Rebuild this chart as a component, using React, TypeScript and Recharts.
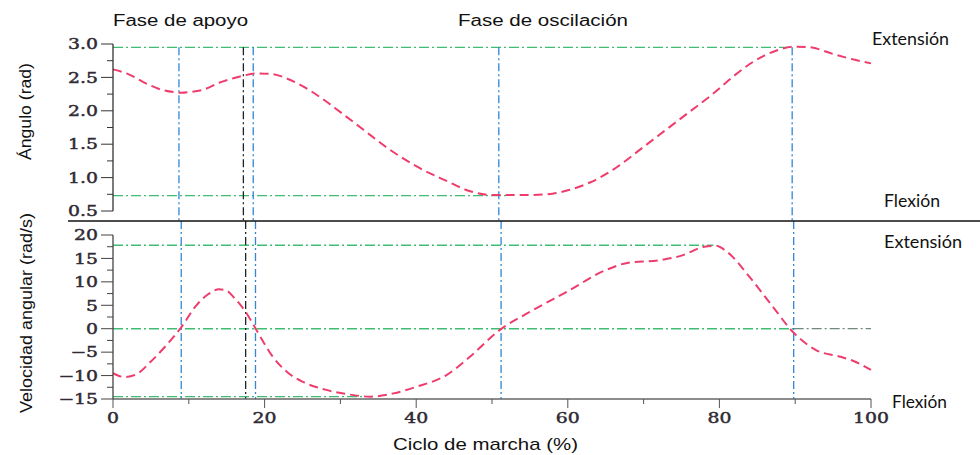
import { LineChart, Line, XAxis, YAxis, ReferenceLine } from "recharts";

// gait cycle (%) and knee angle (rad)
const anglePct = [0, 2, 4, 6, 8, 9, 10, 12, 14, 16, 17, 19, 21, 23, 25, 28, 30, 33, 36, 40, 44, 47, 50, 52, 55, 58, 60, 63, 66, 70, 73, 76, 79, 82, 84, 86, 88, 90, 92, 95, 98, 100];
const angleRad = [2.62, 2.55, 2.43, 2.33, 2.28, 2.27, 2.28, 2.32, 2.42, 2.49, 2.52, 2.56, 2.55, 2.48, 2.37, 2.15, 1.98, 1.72, 1.46, 1.17, 0.95, 0.8, 0.74, 0.74, 0.74, 0.76, 0.81, 0.93, 1.12, 1.46, 1.72, 1.98, 2.24, 2.53, 2.7, 2.83, 2.92, 2.96, 2.95, 2.85, 2.76, 2.71];

// gait cycle (%) and angular velocity (rad/s)
const velPct = [0, 1.5, 3, 5, 7, 9, 11, 12.5, 14, 15, 16, 17.5, 19, 21, 23, 25, 28, 31, 34, 37, 40, 44, 47, 51, 55, 60, 65, 68, 72, 75, 78, 79.5, 81, 84, 87, 89.7, 92.8, 96, 98, 100];
const velRad = [-9.5, -10.3, -9.8, -7.0, -3.6, 0.3, 5.0, 7.3, 8.4, 8.1, 6.6, 3.6, -0.5, -5.8, -9.3, -11.3, -13.0, -14.0, -14.5, -13.8, -12.4, -9.9, -6.1, -0.3, 3.6, 8.0, 12.5, 14.1, 14.6, 15.6, 17.5, 17.7, 16.4, 11.0, 4.8, -0.7, -4.6, -6.0, -7.1, -8.8];

const angleTicks = [0.5, 0.75, 1, 1.25, 1.5, 1.75, 2, 2.25, 2.5, 2.75, 3];
const velTicks = [-15, -12.5, -10, -7.5, -5, -2.5, 0, 2.5, 5, 7.5, 10, 12.5, 15, 17.5, 20];
const pctTicks = [0, 10, 20, 30, 40, 50, 60, 70, 80, 90, 100];

// extension / flexion limits
const angleExt = 2.95;
const angleFlex = 0.73;
const velExt = 17.8;
const velFlex = -14.5;

// phase events (%)
const eventsTop = [8.7, 18.5, 50.9, 89.6];
const eventsBottom = [9.0, 18.8, 51.2, 89.8];
const toeOffTop = 17.2;
const toeOffBottom = 17.5;

const angleData = anglePct.map((pct, i) => ({ pct, angle: angleRad[i] }));
const velData = velPct.map((pct, i) => ({ pct, vel: velRad[i] }));

const RED = "#ee3d6d";
const GREEN = "#3fbd72";
const BLUE = "#2f86d4";
const GREEN_DASH = "10 3 2 3";
const BLUE_DASH = "8 3 2 3";
const tickFont = "'DejaVu Serif', serif";
const tickColor = "#2f2a33";

const fmtVel = (v: number) => (v < 0 ? "\u2212" + Math.abs(v) : String(v));

const tickText = {
  fontFamily: tickFont,
  fontSize: 14.5,
  fill: tickColor,
  stroke: tickColor,
  strokeWidth: 0.45,
};

const AngleTick = (props: any) => {
  const { x, y, payload } = props;
  const v = payload.value as number;
  const major = Math.abs(v * 2 - Math.round(v * 2)) < 1e-6;
  return (
    <g>
      <line x1={x - (major ? 12 : 6)} x2={x} y1={y} y2={y} stroke="#333" />
      {major && (
        <text transform={`translate(${x - 15},${y}) scale(1.3,1)`} textAnchor="end" dy="0.36em" {...tickText}>
          {v.toFixed(1)}
        </text>
      )}
    </g>
  );
};

const VelTick = (props: any) => {
  const { x, y, payload } = props;
  const v = payload.value as number;
  const major = v % 5 === 0;
  return (
    <g>
      <line x1={x - (major ? 12 : 6)} x2={x} y1={y} y2={y} stroke="#444" />
      {major && (
        <text transform={`translate(${x - 15},${y}) scale(1.3,1)`} textAnchor="end" dy="0.36em" {...tickText}>
          {fmtVel(v)}
        </text>
      )}
    </g>
  );
};

const PctTick = (props: any) => {
  const { x, y, payload } = props;
  const v = payload.value as number;
  const major = v % 20 === 0;
  return (
    <g>
      <line x1={x} x2={x} y1={y} y2={y + (major ? 9 : 5)} stroke="#555" />
      {major && (
        <text transform={`translate(${x},${y + 24}) scale(1.3,1)`} textAnchor="middle" {...tickText}>
          {v}
        </text>
      )}
    </g>
  );
};

const sans = "'Liberation Sans', Arial, sans-serif";
const calibri = "Lato, sans-serif";

export default function App() {
  return (
    <div style={{ position: "absolute", left: 0, top: 0, width: 980, height: 455, background: "#fff", overflow: "hidden" }}>
      <div style={{ position: "absolute", left: 0, top: 0 }}>
        <LineChart width={980} height={230} data={angleData} margin={{ top: 44, right: 109, bottom: 19, left: 0 }}>
          <XAxis type="number" dataKey="pct" domain={[0, 100]} hide />
          <YAxis
            type="number"
            domain={[0.5, 3]}
            ticks={angleTicks}
            interval={0}
            width={113}
            tickSize={0}
            tickMargin={0}
            axisLine={{ stroke: "#333", strokeWidth: 1.3 }}
            tickLine={false}
            tick={AngleTick}
          />
          <ReferenceLine segment={[{ x: 0, y: angleExt }, { x: 89.6, y: angleExt }]} stroke={GREEN} strokeDasharray={GREEN_DASH} strokeWidth={1.4} ifOverflow="visible" />
          <ReferenceLine segment={[{ x: 0, y: angleFlex }, { x: 52, y: angleFlex }]} stroke={GREEN} strokeDasharray={GREEN_DASH} strokeWidth={1.4} ifOverflow="visible" />
          {eventsTop.map((e) => (
            <ReferenceLine key={e} segment={[{ x: e, y: angleExt }, { x: e, y: 0.35 }]} stroke={BLUE} strokeDasharray={BLUE_DASH} strokeWidth={1.3} ifOverflow="visible" />
          ))}
          <ReferenceLine segment={[{ x: toeOffTop, y: angleExt }, { x: toeOffTop, y: 0.35 }]} stroke="#222" strokeDasharray={BLUE_DASH} strokeWidth={1.3} ifOverflow="visible" />
          <Line type="monotone" dataKey="angle" stroke={RED} strokeWidth={2} strokeDasharray="9 5" dot={false} isAnimationActive={false} />
        </LineChart>
      </div>
      <div style={{ position: "absolute", left: 0, top: 214 }}>
        <LineChart width={980} height={241} data={velData} margin={{ top: 21, right: 109, bottom: 0, left: 0 }}>
          <XAxis
            type="number"
            dataKey="pct"
            domain={[0, 100]}
            ticks={pctTicks}
            interval={0}
            height={56}
            tickSize={0}
            tickMargin={0}
            axisLine={{ stroke: "#666", strokeWidth: 1.3 }}
            tickLine={false}
            tick={PctTick}
          />
          <YAxis
            type="number"
            domain={[-15, 20]}
            ticks={velTicks}
            interval={0}
            width={113}
            tickSize={0}
            tickMargin={0}
            axisLine={{ stroke: "#444", strokeWidth: 1.3 }}
            tickLine={false}
            tick={VelTick}
          />
          <ReferenceLine segment={[{ x: 0, y: velExt }, { x: 79.2, y: velExt }]} stroke={GREEN} strokeDasharray={GREEN_DASH} strokeWidth={1.4} ifOverflow="visible" />
          <ReferenceLine segment={[{ x: 0, y: 0 }, { x: 89.8, y: 0 }]} stroke={GREEN} strokeDasharray={GREEN_DASH} strokeWidth={1.4} ifOverflow="visible" />
          <ReferenceLine segment={[{ x: 89.8, y: 0 }, { x: 100, y: 0 }]} stroke="#4d6b58" strokeDasharray={GREEN_DASH} strokeWidth={1} ifOverflow="visible" />
          <ReferenceLine segment={[{ x: 0, y: velFlex }, { x: 33, y: velFlex }]} stroke={GREEN} strokeDasharray={GREEN_DASH} strokeWidth={1.4} ifOverflow="visible" />
          {eventsBottom.map((e) => (
            <ReferenceLine key={e} segment={[{ x: e, y: 23 }, { x: e, y: -15 }]} stroke={BLUE} strokeDasharray={BLUE_DASH} strokeWidth={1.3} ifOverflow="visible" />
          ))}
          <ReferenceLine segment={[{ x: toeOffBottom, y: 23 }, { x: toeOffBottom, y: -15 }]} stroke="#222" strokeDasharray={BLUE_DASH} strokeWidth={1.3} ifOverflow="visible" />
          <Line type="monotone" dataKey="vel" stroke={RED} strokeWidth={2} strokeDasharray="9 5" dot={false} isAnimationActive={false} />
        </LineChart>
      </div>
      <svg width={980} height={455} style={{ position: "absolute", left: 0, top: 0, pointerEvents: "none" }}>
        <line x1={68} x2={980} y1={221} y2={221} stroke="#111" strokeWidth={1.6} />
        <text x={113} y={26} fontFamily={sans} fontSize={16} fill="#111" textLength={135} lengthAdjust="spacingAndGlyphs">Fase de apoyo</text>
        <text x={458} y={26} fontFamily={sans} fontSize={16} fill="#111" textLength={170} lengthAdjust="spacingAndGlyphs">Fase de oscilación</text>
        <text x={872} y={45} fontFamily={calibri} fontSize={17} fill="#111" textLength={77} lengthAdjust="spacingAndGlyphs">Extensión</text>
        <text x={884} y={207} fontFamily={calibri} fontSize={17} fill="#111" textLength={56} lengthAdjust="spacingAndGlyphs">Flexión</text>
        <text x={884} y={248} fontFamily={calibri} fontSize={17} fill="#111" textLength={78} lengthAdjust="spacingAndGlyphs">Extensión</text>
        <text x={892} y={408} fontFamily={calibri} fontSize={17} fill="#111" textLength={55} lengthAdjust="spacingAndGlyphs">Flexión</text>
        <text x={393} y={450} fontFamily={sans} fontSize={17} fill="#111" textLength={185} lengthAdjust="spacingAndGlyphs">Ciclo de marcha (%)</text>
        <text transform="translate(31,111.5) rotate(-90)" textAnchor="middle" fontFamily={sans} fontSize={17} fill="#111" textLength={97} lengthAdjust="spacingAndGlyphs">Ángulo (rad)</text>
        <text transform="translate(32,313) rotate(-90)" textAnchor="middle" fontFamily={sans} fontSize={17} fill="#111" textLength={200} lengthAdjust="spacingAndGlyphs">Velocidad angular (rad/s)</text>
      </svg>
    </div>
  );
}
